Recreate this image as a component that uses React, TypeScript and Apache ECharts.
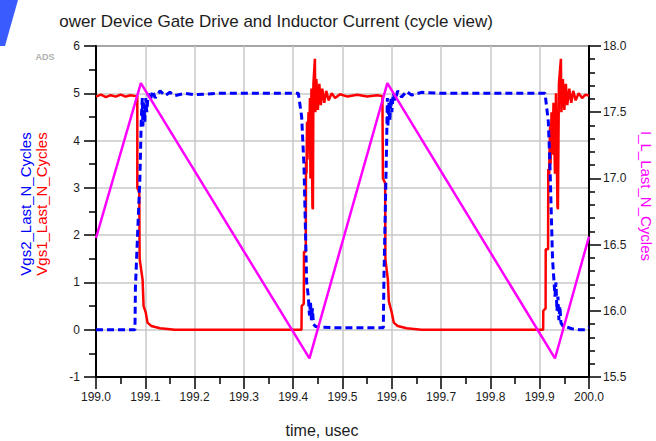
import React, { useEffect, useRef } from "react";
import * as echarts from "echarts";

const titleText = "ower Device Gate Drive and Inductor Current (cycle view)";
const xTitle = "time, usec";
const leftName1 = "Vgs2_Last_N_Cycles";
const leftName2 = "Vgs1_Last_N_Cycles";
const rightName = "I_L_Last_N_Cycles";

// Vgs1 (red, left axis): [time usec, volts]
const vgs1: [number, number][] = [
  [199.0, 4.93], [199.01, 4.97], [199.02, 4.92], [199.03, 4.96], [199.04, 4.93], [199.05, 4.97],
  [199.06, 4.93], [199.07, 4.96], [199.08, 4.94],
  [199.0838, 4.95], [199.0838, 3.0], [199.0878, 2.9], [199.0885, 1.5], [199.0945, 1.06],
  [199.0965, 0.5], [199.101, 0.36], [199.1045, 0.15], [199.112, 0.08], [199.13, 0.03], [199.16, 0.0],
  [199.25, 0.0], [199.35, 0.0], [199.4168, 0.0],
  [199.4172, 0.5], [199.4215, 0.55], [199.4219, 1.65], [199.4255, 1.65], [199.426, 3.55],
  [199.427, 3.3], [199.428, 4.4], [199.429, 3.6], [199.431, 4.6], [199.432, 3.8], [199.434, 4.9],
  [199.435, 3.2], [199.437, 5.1], [199.439, 2.6], [199.440, 2.55], [199.441, 5.2], [199.444, 5.73],
  [199.445, 4.6], [199.447, 5.3], [199.450, 4.65], [199.453, 5.2], [199.456, 4.75], [199.459, 5.1],
  [199.463, 4.8], [199.467, 5.05], [199.472, 4.85], [199.478, 5.0], [199.485, 4.9], [199.495, 4.98],
  [199.51, 4.93], [199.53, 4.97], [199.55, 4.93], [199.57, 4.96], [199.581, 4.94],
  [199.582, 4.95], [199.582, 3.2], [199.5865, 3.1], [199.587, 1.5], [199.592, 1.06], [199.594, 0.6],
  [199.6, 0.36], [199.604, 0.15], [199.612, 0.08], [199.63, 0.03], [199.66, 0.0], [199.75, 0.0],
  [199.85, 0.0], [199.907, 0.0],
  [199.9073, 0.4], [199.912, 0.45], [199.9122, 1.7], [199.917, 1.7], [199.9174, 3.4],
  [199.919, 3.2], [199.921, 4.3], [199.922, 3.5], [199.924, 4.6], [199.926, 3.7], [199.928, 4.8],
  [199.931, 3.3], [199.933, 5.0], [199.936, 2.6], [199.937, 2.55], [199.939, 5.2], [199.943, 5.73],
  [199.944, 4.6], [199.947, 5.3], [199.950, 4.65], [199.953, 5.2], [199.956, 4.75], [199.960, 5.1],
  [199.964, 4.8], [199.968, 5.05], [199.973, 4.85], [199.979, 5.0], [199.986, 4.9], [199.993, 4.97],
  [200.0, 4.95],
];

// Vgs2 (blue dashed, left axis)
const vgs2: [number, number][] = [
  [199.0, 0.0], [199.05, 0.0], [199.079, 0.0],
  [199.080, 0.9], [199.089, 3.2], [199.092, 4.5], [199.094, 4.9], [199.095, 4.3], [199.097, 4.8],
  [199.099, 4.4], [199.101, 4.9], [199.103, 4.6], [199.106, 5.0], [199.11, 4.85], [199.115, 5.05],
  [199.12, 4.9], [199.13, 5.05], [199.14, 4.95], [199.15, 5.02], [199.16, 4.95], [199.18, 5.0],
  [199.2, 4.97], [199.25, 5.0], [199.3, 5.0], [199.35, 5.0], [199.4104, 5.0],
  [199.4172, 4.5], [199.4219, 3.45], [199.4273, 1.0], [199.4307, 0.7], [199.433, 0.3], [199.435, 0.6],
  [199.437, 0.2], [199.439, 0.45], [199.441, 0.12], [199.445, 0.07], [199.46, 0.05], [199.5, 0.04],
  [199.55, 0.04], [199.5828, 0.04],
  [199.584, 1.06], [199.5896, 4.0], [199.591, 4.9], [199.592, 4.3], [199.594, 4.8], [199.596, 4.4],
  [199.598, 4.9], [199.6, 4.6], [199.603, 5.0], [199.607, 4.85], [199.612, 5.05], [199.62, 4.92],
  [199.63, 5.04], [199.64, 4.96], [199.66, 5.02], [199.7, 5.0], [199.8, 5.0], [199.9, 5.0],
  [199.9108, 5.0],
  [199.9175, 4.4], [199.9209, 3.45], [199.926, 1.5], [199.931, 0.7], [199.933, 1.0], [199.935, 0.4],
  [199.937, 0.7], [199.939, 0.2], [199.941, 0.5], [199.943, 0.15], [199.947, 0.08], [199.955, 0.06],
  [199.965, 0.02], [199.98, 0.0], [199.992, 0.0], [200.0, 0.05],
];

// I_L (magenta, right axis)
const iL: [number, number][] = [
  [199.0, 16.55], [199.091, 17.72], [199.433, 15.64], [199.591, 17.72], [199.931, 15.64], [200.0, 16.56],
];

const font = "Liberation Sans, Arial, sans-serif";
const labelColor = "#1c1c1c";

export default function App() {
  const ref = useRef<HTMLDivElement>(null);
  useEffect(() => {
    if (!ref.current) return;
    const chart = echarts.init(ref.current, null, { renderer: "svg" });
    chart.setOption({
      animation: false,
      backgroundColor: "#ffffff",
      textStyle: { fontFamily: font },
      grid: {
        left: 96,
        right: 67,
        top: 46,
        bottom: 64,
        show: true,
        borderColor: "#000",
        borderWidth: 1.5,
        backgroundColor: "transparent",
      },
      xAxis: {
        type: "value",
        min: 199,
        max: 200,
        interval: 0.1,
        axisLine: { show: true, onZero: false, lineStyle: { color: "#000", width: 2 } },
        axisTick: { show: true, inside: false, length: 12, lineStyle: { color: "#000", width: 1.5 } },
        minorTick: { show: true, splitNumber: 2, length: 7, lineStyle: { color: "#000", width: 1.5 } },
        splitLine: { show: true, lineStyle: { color: "#c8c8c8", width: 1.5 } },
        axisLabel: {
          margin: 14,
          fontSize: 12,
          color: labelColor,
          fontFamily: font,
          formatter: (v: number) => v.toFixed(1),
        },
      },
      yAxis: [
        {
          type: "value",
          min: -1,
          max: 6,
          interval: 1,
          position: "left",
          axisLine: { show: true, onZero: false, lineStyle: { color: "#000", width: 2 } },
          axisTick: { show: true, length: 12, lineStyle: { color: "#000", width: 1.5 } },
          minorTick: { show: true, splitNumber: 2, length: 7, lineStyle: { color: "#000", width: 1.5 } },
          splitLine: { show: true, lineStyle: { color: "#c8c8c8", width: 1.5 } },
          axisLabel: { margin: 16, fontSize: 12, color: labelColor, fontFamily: font },
        },
        {
          type: "value",
          min: 15.5,
          max: 18.0,
          interval: 0.5,
          position: "right",
          axisLine: { show: true, onZero: false, lineStyle: { color: "#000", width: 2 } },
          axisTick: { show: true, length: 12, lineStyle: { color: "#000", width: 1.5 } },
          minorTick: { show: true, splitNumber: 5, length: 6, lineStyle: { color: "#000", width: 1.5 } },
          splitLine: { show: false },
          axisLabel: {
            margin: 14,
            fontSize: 12,
            color: labelColor,
            fontFamily: font,
            formatter: (v: number) => v.toFixed(1),
          },
        },
      ],
      series: [
        {
          name: "Vgs1_Last_N_Cycles",
          type: "line",
          data: vgs1,
          yAxisIndex: 0,
          showSymbol: false,
          lineStyle: { color: "#ff0000", width: 2.5 },
          itemStyle: { color: "#ff0000" },
        },
        {
          name: "Vgs2_Last_N_Cycles",
          type: "line",
          data: vgs2,
          yAxisIndex: 0,
          showSymbol: false,
          lineStyle: { color: "#0000ff", width: 3, type: [7, 4] },
          itemStyle: { color: "#0000ff" },
        },
        {
          name: "I_L_Last_N_Cycles",
          type: "line",
          data: iL,
          yAxisIndex: 1,
          showSymbol: false,
          lineStyle: { color: "#ff00ff", width: 2.5 },
          itemStyle: { color: "#ff00ff" },
        },
      ],
      graphic: [
        {
          type: "polygon",
          shape: { points: [[0, 0], [18, 0], [5, 46], [0, 46]] },
          style: { fill: "#3a5cff" },
        },
        {
          type: "text",
          x: 276,
          y: 21,
          style: {
            text: titleText,
            fill: "#1c1c1c",
            font: `17px ${font}`,
            align: "center",
            verticalAlign: "middle",
          },
        },
        {
          type: "text",
          x: 45,
          y: 57,
          style: {
            text: "ADS",
            fill: "#b0b0b0",
            font: `bold 9px ${font}`,
            align: "center",
            verticalAlign: "middle",
          },
        },
        {
          type: "text",
          x: 25,
          y: 204,
          rotation: Math.PI / 2,
          style: {
            text: leftName1,
            fill: "#0000ff",
            font: `15px ${font}`,
            align: "center",
            verticalAlign: "middle",
          },
        },
        {
          type: "text",
          x: 41,
          y: 204,
          rotation: Math.PI / 2,
          style: {
            text: leftName2,
            fill: "#ff0000",
            font: `15px ${font}`,
            align: "center",
            verticalAlign: "middle",
          },
        },
        {
          type: "text",
          x: 646,
          y: 196,
          rotation: -Math.PI / 2,
          style: {
            text: rightName,
            fill: "#ff00ff",
            font: `15px ${font}`,
            align: "center",
            verticalAlign: "middle",
          },
        },
        {
          type: "text",
          x: 322,
          y: 430,
          style: {
            text: xTitle,
            fill: "#1c1c1c",
            font: `16px ${font}`,
            align: "center",
            verticalAlign: "middle",
          },
        },
      ],
    });
    return () => chart.dispose();
  }, []);
  return (
    <div
      ref={ref}
      style={{ position: "absolute", left: 0, top: 0, width: 656, height: 441 }}
    />
  );
}
